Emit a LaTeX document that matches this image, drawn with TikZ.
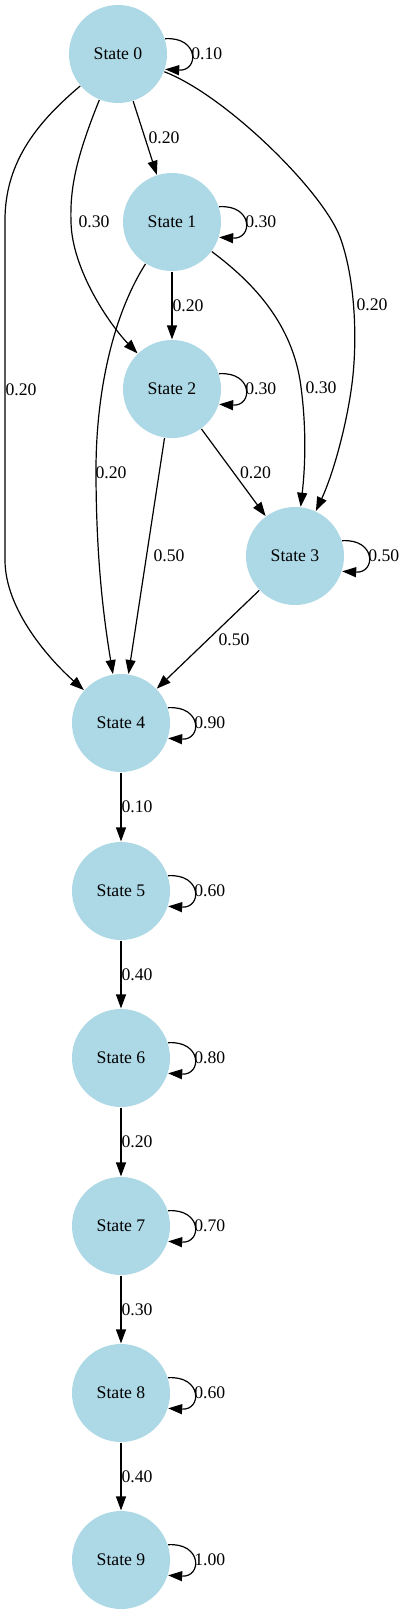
\documentclass[tikz,border=0pt]{standalone}
\usepackage{fontspec}
\setmainfont{Liberation Serif}
\usetikzlibrary{arrows.meta}
\definecolor{lightblue}{RGB}{173,216,230}
\begin{document}
\begin{tikzpicture}
[x=1pt,y=-1pt,>={Triangle[length=14pt,width=10pt]},line width=1.2pt,
state/.style={circle,fill=lightblue,minimum size=98pt,inner sep=0pt,font=\fontsize{17.7}{20}\selectfont},
prob/.style={anchor=west,inner sep=0pt,font=\fontsize{17.7}{20}\selectfont},]

\useasboundingbox (0,0) rectangle (405,1614);

%States
\node (s0) at (118,54)[state] {State 0};
\node (s1) at (172,222)[state] {State 1};
\node (s2) at (172,389)[state] {State 2};
\node (s3) at (295,556)[state] {State 3};
\node (s4) at (121,723)[state] {State 4};
\node (s5) at (121,891)[state] {State 5};
\node (s6) at (121,1058)[state] {State 6};
\node (s7) at (121,1226)[state] {State 7};
\node (s8) at (121,1393)[state] {State 8};
\node (s9) at (121,1560)[state] {State 9};

%Transitions out of State 0
\draw[->] (s0) -- node[prob,xshift=3] {0.20} (s1);
\draw[->] (s0) .. controls (75,160) and (70,190) .. (71,222) node[prob,xshift=7] {0.30}
  .. controls (72,270) and (110,325) .. (s2);
\draw[->] (s0) .. controls (40,120) and (5,160) .. (5,220) -- node[prob] {0.20} (5,560)
  .. controls (5,610) and (50,660) .. (s4);
\draw[->] (s0) .. controls (225,95) and (322,190) .. (340,237)
  .. controls (355,278) and (357,335) .. (353,375)
  .. controls (349,415) and (335,470) .. (s3) node[prob,at={(356,305)}] {0.20};

%Transitions out of State 1
\draw[->] (s1) -- node[prob] {0.20} (s2);
\draw[->] (s1) .. controls (110,320) and (96,400) .. (96,470)
  .. controls (96,560) and (104,620) .. (s4) node[prob,at={(95,473)}] {0.20};
\draw[->] (s1) .. controls (250,280) and (290,320) .. (300,380)
  .. controls (306,420) and (306,460) .. (s3) node[prob,at={(305,388)}] {0.30};

%Transitions out of States 2 and 3
\draw[->] (s2) -- node[prob,xshift=6] {0.20} (s3);
\draw[->] (s2) -- node[prob,xshift=6.5] {0.50} (s4);
\draw[->] (s3) -- node[prob,xshift=10] {0.50} (s4);

%Chain
\foreach \a/\b/\p in {4/5/0.10,5/6/0.40,6/7/0.20,7/8/0.30,8/9/0.40}
  \draw[->] (s\a) -- node[prob] {\p} (s\b);

%Self loops
\foreach \i/\p in {0/0.10,1/0.30,2/0.30,3/0.50,4/0.90,5/0.60,6/0.80,7/0.70,8/0.60,9/1.00}
  \draw[->] (s\i.18) .. controls +(34,-2) and +(34,2) .. node[prob] {\p} (s\i.-18);
\end{tikzpicture}
\end{document}
